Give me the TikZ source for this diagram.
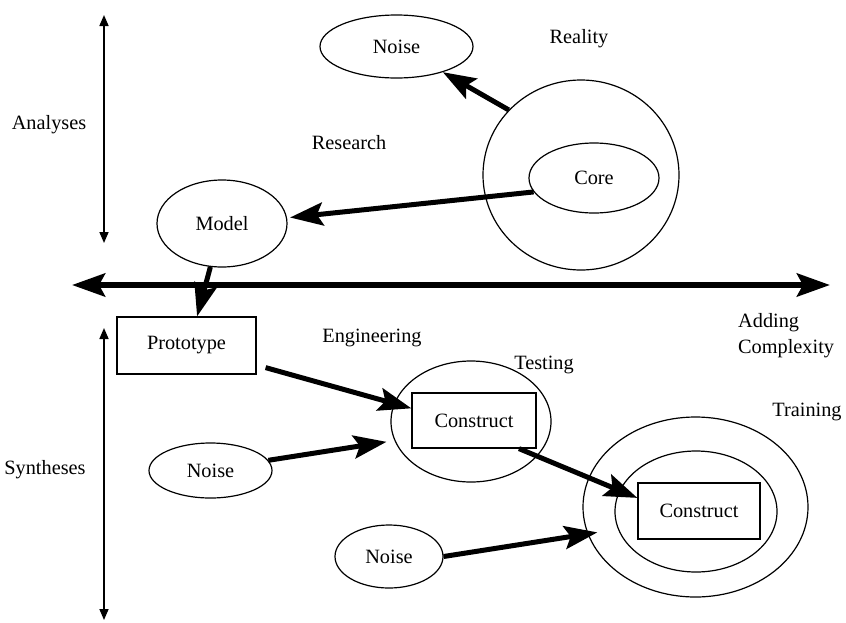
\documentclass[tikz,border=0pt]{standalone}
\usepackage{fontspec}
\setmainfont{Liberation Serif}
\usetikzlibrary{arrows.meta,shapes.geometric,calc}

\begin{document}
\begin{tikzpicture}[x=1pt,y=-1pt,
  font=\fontsize{20.3}{23}\selectfont,
  oval/.style={draw, ellipse, line width=1.2pt, inner sep=0pt},
  box/.style={draw, rectangle, line width=1.2pt, inner sep=0pt},
  txtlabel/.style={inner sep=0pt, align=left},
  flowarrow/.style={line width=5pt, -{Stealth[length=33pt,width=23pt,inset=6pt]}},
  mainaxis/.style={line width=6pt,
    {Stealth[length=33pt,width=23pt,inset=6pt]}-{Stealth[length=33pt,width=23pt,inset=6pt]}},
  spanarrow/.style={line width=1.6pt,
    {Triangle[length=11pt,width=9pt]}-{Triangle[length=11pt,width=9pt]}}
]
\useasboundingbox (0,0) rectangle (846,622);

% axes
\coordinate (a1) at (104,15);
\coordinate (a2) at (104,243);
\coordinate (s1) at (104,328);
\coordinate (s2) at (104,620);
\coordinate (h1) at (72,285);
\coordinate (h2) at (830,285);
\draw[spanarrow] (a1) -- (a2);
\draw[spanarrow] (s1) -- (s2);
\draw[mainaxis] (h1) -- (h2);

% side and region labels
\node[txtlabel] (analyses) at (49,125) {Analyses};
\node[txtlabel] (syntheses) at (45,470) {Syntheses};
\node[txtlabel] (realitytxt) at (579,39) {Reality};
\node[txtlabel] (research) at (349,143) {Research};
\node[txtlabel] (engineering) at (372,338) {Engineering};
\node[txtlabel] (testingtxt) at (544,365) {Testing};
\node[txtlabel] (trainingtxt) at (807,412) {Training};
\node[txtlabel, anchor=west, font=\fontsize{20.3}{26}\selectfont] (complexity) at (738,336) {Adding\\Complexity};

% analysis side
\node[oval, minimum width=153pt, minimum height=63pt] (noiseA) at (396.5,46.5) {Noise};
\node[oval, minimum width=196pt, minimum height=190pt] (reality) at (581,175) {};
\node[oval, minimum width=130pt, minimum height=70pt] (core) at (594,178) {Core};
\node[oval, minimum width=130pt, minimum height=87pt] (model) at (222,223.5) {Model};

% synthesis side
\node[box, minimum width=139pt, minimum height=57pt] (prototype) at (186.5,345.5) {Prototype};
\node[oval, minimum width=160pt, minimum height=121pt] (testing) at (471,421.5) {};
\node[box, minimum width=124pt, minimum height=55pt] (construct1) at (474,420.5) {Construct};
\node[oval, minimum width=123pt, minimum height=55pt] (noiseB) at (210.5,470.5) {Noise};
\node[oval, minimum width=108pt, minimum height=63pt] (noiseC) at (389,556.5) {Noise};
\node[oval, minimum width=225pt, minimum height=180pt] (training) at (695.5,507) {};
\node[oval, minimum width=162pt, minimum height=121pt] (trainingIn) at (696,511.5) {};
\node[box, minimum width=122pt, minimum height=56pt] (construct2) at (699,511) {Construct};

% connectors
\draw[flowarrow] (reality.138) -- (noiseA.-29);
\draw[flowarrow, shorten >=3pt] (core.193) -- (model.5);
\draw[flowarrow] (model.255) -- (prototype.70);
\draw[flowarrow] ($(prototype.south east)+(9,-7)$) -- (construct1.169);
\draw[flowarrow, shorten >=8pt] (noiseB.10) -- (testing.194);
\draw[flowarrow] (construct1.-32) -- (construct2.168);
\draw[flowarrow, shorten >=-10pt] (noiseC.east) -- (training.194);

\end{tikzpicture}
\end{document}
